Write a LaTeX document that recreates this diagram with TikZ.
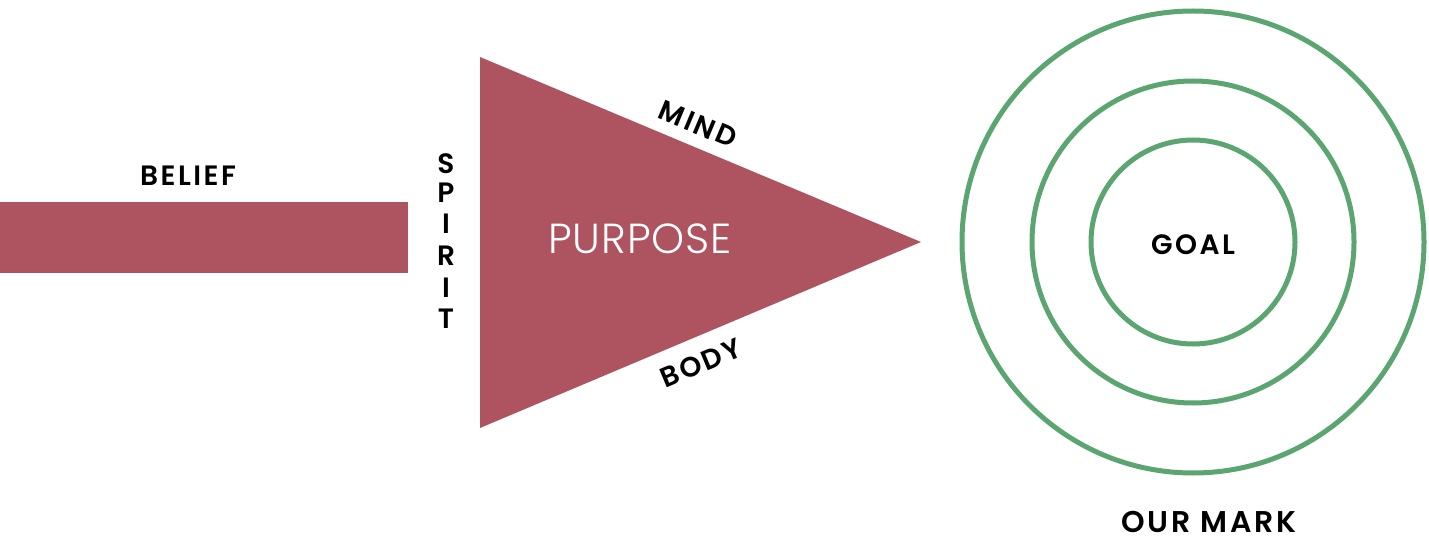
\documentclass[tikz,border=0pt]{standalone}
\usepackage{fontspec}
\setmainfont{Poppins}[BoldFont={Poppins SemiBold}]
\newfontfamily\labelfont{Poppins SemiBold}[LetterSpace=9]
\newfontfamily\purpfont{Poppins Light}[LetterSpace=2]
\definecolor{rose}{HTML}{AE5360}
\definecolor{ring}{HTML}{5BA571}
\tikzset{
  lbl/.style={font=\labelfont\fontsize{28}{28}\selectfont, text=black, inner sep=0pt, anchor=center},
  ringline/.style={draw=ring, line width=5pt}
}
\begin{document}
\begin{tikzpicture}[x=1pt,y=-1pt]
\useasboundingbox (0,0) rectangle (1429,537);
% belief bar
\fill[rose] (0,202) rectangle (408,273);
\node[lbl] (belief) at (188,176) {BELIEF};
% triangle
\fill[rose] (480,57) -- (921,242) -- (480,428) -- cycle;
\node[font=\purpfont\fontsize{42}{42}\selectfont, text=white, inner sep=0pt] (purpose) at (640,239) {PURPOSE};
% spirit
\foreach \ch/\yy [count=\i] in {S/164,P/193,I/224,R/256,I/288,T/319}{
  \node[lbl] (sp\i) at (446,\yy) {\ch};
}
\node[lbl, rotate=-22.8] (mind) at (698,124) {MIND};
\node[lbl, rotate=22.8] (body) at (701,363) {BODY};
% target
\node[ringline, circle, minimum size=462pt, inner sep=0pt] (outer) at (1193,242) {};
\node[ringline, circle, minimum size=322pt, inner sep=0pt] (middle) at (1193,242) {};
\node[ringline, circle, minimum size=204pt, inner sep=0pt] (inner) at (1193,242) {};
\node[lbl] (goal) at (1193,245) {GOAL};
\node[lbl, font=\labelfont\fontsize{30}{30}\selectfont, anchor=base, text depth=0pt] (mark) at (1209,532) {OUR MARK};
\end{tikzpicture}
\end{document}
